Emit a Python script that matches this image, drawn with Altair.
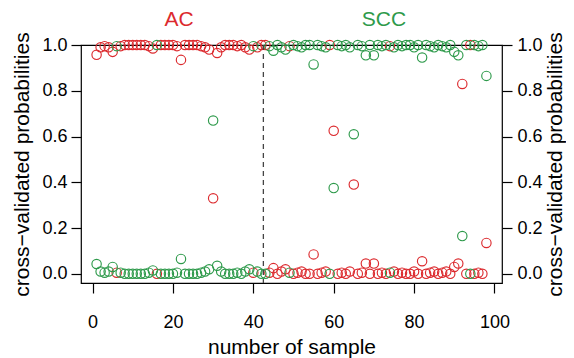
import altair as alt
import pandas as pd

# ---- data ----
samples = list(range(1, 99))

# cross-validated probability of class AC (red)
p_ac = [
    0.957, 0.99, 0.995, 0.99, 0.97, 0.005, 0.995, 1.0, 1.0, 1.0,
    1.0, 1.0, 1.0, 0.995, 0.985, 0.0, 1.0, 1.0, 1.0, 1.0,
    0.995, 0.935, 1.0, 1.0, 1.0, 1.0, 0.995, 0.99, 0.98, 0.33,
    0.965, 0.99, 1.0, 1.0, 1.0, 0.995, 1.0, 0.99, 0.98, 0.005,
    0.99, 1.0, 1.0, 0.005, 0.025, 0.0, 0.01, 0.02, 0.995, 0.0,
    0.005, 0.01, 0.0, 0.0, 0.085, 0.0, 0.005, 0.01, 1.0, 0.625,
    0.0, 0.005, 0.0, 0.01, 0.39, 0.0, 0.005, 0.045, 0.0, 0.045,
    0.0, 0.005, 0.0, 0.995, 0.01, 0.0, 0.005, 0.0, 0.0, 0.01,
    0.0, 0.055, 0.0, 0.005, 0.01, 0.0, 0.005, 0.01, 0.0, 0.03,
    0.045, 0.83, 0.0, 1.0, 0.0, 0.005, 0.0, 0.135,
]

# cross-validated probability of class SCC (green)
p_scc = [
    0.043, 0.01, 0.005, 0.01, 0.03, 0.995, 0.005, 0.0, 0.0, 0.0,
    0.0, 0.0, 0.0, 0.005, 0.015, 1.0, 0.0, 0.0, 0.0, 0.0,
    0.005, 0.065, 0.0, 0.0, 0.0, 0.0, 0.005, 0.01, 0.02, 0.67,
    0.035, 0.01, 0.0, 0.0, 0.0, 0.005, 0.0, 0.01, 0.02, 0.995,
    0.01, 0.0, 0.0, 0.995, 0.975, 1.0, 0.99, 0.98, 0.005, 1.0,
    0.995, 0.99, 1.0, 1.0, 0.915, 1.0, 0.995, 0.99, 0.0, 0.375,
    1.0, 0.995, 1.0, 0.99, 0.61, 1.0, 0.995, 0.955, 1.0, 0.955,
    1.0, 0.995, 1.0, 0.005, 0.99, 1.0, 0.995, 1.0, 1.0, 0.99,
    1.0, 0.945, 1.0, 0.995, 0.99, 1.0, 0.995, 0.99, 1.0, 0.97,
    0.955, 0.165, 1.0, 0.0, 1.0, 0.995, 1.0, 0.865,
]

classes = ["AC", "SCC"]
class_colors = ["#DC2A2E", "#2E9A4B"]
label_x = [21.5, 72.5]
label_y = [1.11, 1.11]
boundary = [42.5]
x_ticks = [0, 20, 40, 60, 80, 100]
y_ticks = [0.0, 0.2, 0.4, 0.6, 0.8, 1.0]

FONT = "Liberation Sans"

df = pd.DataFrame({
    "sample": samples + samples,
    "prob": p_ac + p_scc,
    "cls": ["AC"] * len(samples) + ["SCC"] * len(samples),
})
df_lab = pd.DataFrame({"lx": label_x, "ly": label_y, "cls": classes})
df_b = pd.DataFrame({"b": boundary})

xscale = alt.Scale(domain=[-2.88, 101.88], nice=False, zero=False)
yscale = alt.Scale(domain=[-0.04, 1.0], nice=False, zero=False)
cscale = alt.Scale(domain=classes, range=class_colors)

points = alt.Chart(df).mark_point(
    shape="circle", filled=False, size=88, strokeWidth=1.15, opacity=1
).encode(
    x=alt.X("sample:Q", scale=xscale,
            axis=alt.Axis(values=x_ticks, title="number of sample",
                          labelPadding=20, titlePadding=5)),
    y=alt.Y("prob:Q", scale=yscale,
            axis=alt.Axis(orient="left", values=y_ticks, format=".1f",
                          title="cross−validated probabilities",
                          labelPadding=4, titlePadding=9)),
    color=alt.Color("cls:N", scale=cscale, legend=None),
)

right_axis = alt.Chart(df).mark_point(opacity=0).encode(
    x=alt.X("sample:Q", scale=xscale),
    y=alt.Y("prob:Q", scale=yscale,
            axis=alt.Axis(orient="right", values=y_ticks, format=".1f",
                          title="cross−validated probabilities",
                          titleAngle=270, titleBaseline="top",
                          labelPadding=5, titlePadding=2)),
)

rule = alt.Chart(df_b).mark_rule(
    strokeDash=[5, 4], color="#444444", strokeWidth=1.3
).encode(x=alt.X("b:Q", scale=xscale))

labels = alt.Chart(df_lab).mark_text(
    font=FONT, fontSize=21, baseline="middle", align="center", clip=False
).encode(
    x=alt.X("lx:Q", scale=xscale),
    y=alt.Y("ly:Q", scale=yscale, axis=None),
    text=alt.Text("cls:N"),
    color=alt.Color("cls:N", scale=cscale, legend=None),
)

chart = alt.layer(points, right_axis, rule, labels).resolve_axis(
    y="independent"
).properties(
    width=421, height=238,
    autosize=alt.AutoSizeParams(type="none"),
    padding={"left": 73, "top": 37, "right": 64, "bottom": 75},
).configure_view(
    stroke="black", strokeWidth=1.2
).configure_axis(
    domain=False, grid=False, tickColor="black", tickSize=10, tickWidth=1.2,
    labelColor="black", titleColor="black", labelFont=FONT, titleFont=FONT,
    labelFontSize=18, titleFontSize=21, titleFontWeight="normal",
)

chart.save("out.html", embed_options={"renderer": "svg", "actions": False})
